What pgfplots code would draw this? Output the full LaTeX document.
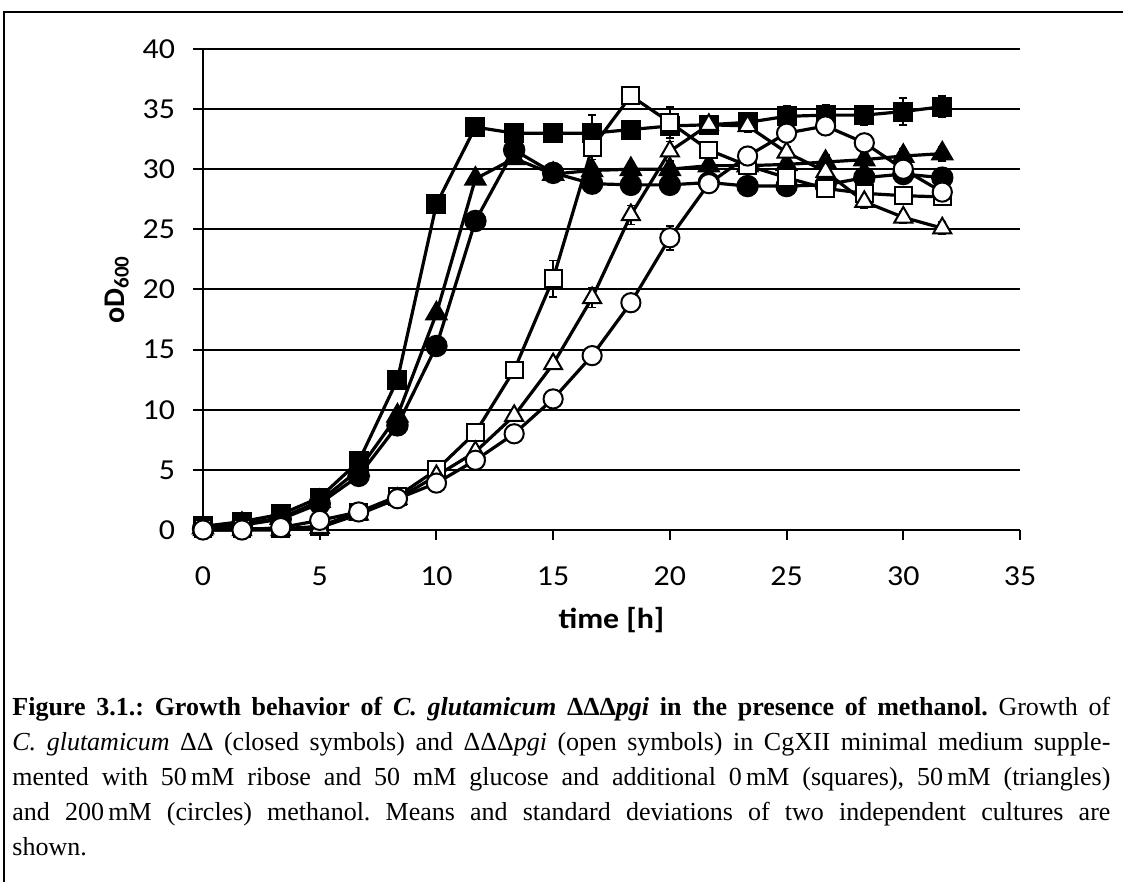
\documentclass[border=0pt]{standalone}
\usepackage{pgfplots}
\pgfplotsset{compat=1.18}
\usepackage{fontspec}
\setmainfont{Liberation Serif}
\newfontfamily\calib[FakeStretch=1.1]{Carlito}
\newfontfamily\calibn{Carlito}

% time [h], OD600, sd
\pgfplotstableread{
t y e
0 0.3 0.1
1.67 0.7 0.1
3.33 1.3 0.1
5 2.7 0.2
6.67 5.7 0.3
8.33 12.5 0.3
10 27.1 0.5
11.67 33.5 0.3
13.33 33.0 0.3
15 33.0 0.3
16.67 33.0 1.5
18.33 33.3 0.5
20 33.6 0.5
21.67 33.7 0.4
23.33 33.9 0.4
25 34.4 0.9
26.67 34.5 0.9
28.33 34.5 0.8
30 34.8 1.1
31.67 35.2 0.9
}\sqclosed
\pgfplotstableread{
t y e
0 0.2 0.1
1.67 0.5 0.1
3.33 1.0 0.1
5 2.4 0.2
6.67 5.0 0.3
8.33 9.5 0.3
10 18.0 0.4
11.67 29.2 0.4
13.33 30.9 0.4
15 29.6 0.4
16.67 29.9 0.5
18.33 30.0 0.5
20 30.0 0.5
21.67 30.3 0.5
23.33 30.3 0.5
25 30.4 0.6
26.67 30.6 0.6
28.33 30.8 0.6
30 31.1 0.6
31.67 31.3 0.6
}\trclosed
\pgfplotstableread{
t y e
0 0.1 0.1
1.67 0.4 0.1
3.33 0.9 0.1
5 2.2 0.2
6.67 4.5 0.3
8.33 8.7 0.3
10 15.3 0.4
11.67 25.7 0.4
13.33 31.6 0.4
15 29.7 0.4
16.67 28.8 0.4
18.33 28.7 0.4
20 28.7 0.4
21.67 28.9 0.4
23.33 28.6 0.4
25 28.6 0.4
26.67 28.7 0.4
28.33 29.3 0.5
30 29.6 0.5
31.67 29.3 0.5
}\ciclosed
\pgfplotstableread{
t y e
0 0.1 0.1
1.67 0.1 0.1
3.33 0.1 0.1
5 0.3 0.1
6.67 1.5 0.1
8.33 2.8 0.2
10 5.0 0.2
11.67 8.1 0.3
13.33 13.3 0.3
15 20.9 1.5
16.67 31.8 1.0
18.33 36.1 0.5
20 33.9 1.3
21.67 31.6 0.5
23.33 30.3 0.5
25 29.3 0.5
26.67 28.4 0.5
28.33 28.0 0.5
30 27.8 0.5
31.67 27.7 0.5
}\sqopen
\pgfplotstableread{
t y e
0 0.0 0.1
1.67 0.0 0.1
3.33 0.0 0.1
5 0.2 0.1
6.67 1.3 0.1
8.33 2.6 0.2
10 4.5 0.2
11.67 6.5 0.3
13.33 9.5 0.3
15 13.8 0.4
16.67 19.3 0.8
18.33 26.2 0.8
20 31.5 0.8
21.67 33.7 0.5
23.33 33.6 0.5
25 31.4 0.5
26.67 29.8 0.5
28.33 27.3 0.5
30 26.0 0.5
31.67 25.1 0.5
}\tropen
\pgfplotstableread{
t y e
0 0.0 0.1
1.67 0.0 0.1
3.33 0.2 0.1
5 0.8 0.1
6.67 1.5 0.1
8.33 2.6 0.2
10 3.9 0.2
11.67 5.8 0.3
13.33 8.0 0.3
15 10.9 0.4
16.67 14.5 0.4
18.33 18.9 0.6
20 24.3 1.0
21.67 28.8 0.5
23.33 31.1 0.5
25 33.0 0.5
26.67 33.6 0.5
28.33 32.2 0.5
30 30.0 0.5
31.67 28.1 0.5
}\ciopen

\begin{document}
\frenchspacing
\begin{tikzpicture}
\useasboundingbox (0,0) rectangle (561.5pt,441pt);
\draw[line width=1pt] (2pt,0pt) -- (2pt,435pt) -- (561.5pt,435pt);
\begin{axis}[
  at={(101.5pt,176pt)}, anchor=south west,
  scale only axis, width=408.5pt, height=240.5pt,
  xmin=0, xmax=35, ymin=0, ymax=40,
  xtick={0,5,...,35}, ytick={0,5,...,40},
  axis lines=left, axis line style={-, line width=1pt},
  tick align=outside, major tick length=5pt,
  tick style={line width=1pt, black},
  ymajorgrids, grid style={line width=1pt, black},
  clip=false,
  /pgf/number format/assume math mode=true,
  ticklabel style={font=\calib\fontsize{14.5}{16}\selectfont},
  xticklabel shift=10pt, yticklabel shift=5.5pt,
  xlabel={time [h]}, ylabel={oD\textsubscript{600}},
  xlabel style={font=\calib\bfseries\fontsize{14.5}{16}\selectfont, yshift=-4pt},
  ylabel style={font=\calibn\bfseries\fontsize{15}{16}\selectfont},
  every axis plot/.append style={line width=1.6pt, black,
    error bars/y dir=both, error bars/y explicit,
    error bars/error bar style={line width=0.8pt},
    error bars/error mark options={rotate=90, mark size=2pt, line width=0.8pt}},
]
\addplot[mark=square*, mark size=4.2pt, mark options={solid, fill=black}] table[x=t, y=y, y error=e] {\sqclosed};
\addplot[mark=triangle*, mark size=5.2pt, mark options={solid, fill=black}] table[x=t, y=y, y error=e] {\trclosed};
\addplot[mark=*, mark size=4.8pt, mark options={solid, fill=black}] table[x=t, y=y, y error=e] {\ciclosed};
\addplot[mark=square*, mark size=4.2pt, mark options={solid, fill=white, line width=1pt}] table[x=t, y=y, y error=e] {\sqopen};
\addplot[mark=triangle*, mark size=5.2pt, mark options={solid, fill=white, line width=1pt}] table[x=t, y=y, y error=e] {\tropen};
\addplot[mark=*, mark size=4.8pt, mark options={solid, fill=white, line width=1pt}] table[x=t, y=y, y error=e] {\ciopen};
\end{axis}
\node[anchor=north west, inner sep=0pt, text width=549pt, align=justify,
  font=\fontsize{13}{17.5}\selectfont] at (6pt,92.5pt) {%
\textbf{Figure 3.1.: Growth behavior of \textit{C.~glutamicum} ΔΔΔ\textit{pgi} in the presence of methanol.} Growth of\linebreak
\textit{C.~glutamicum} ΔΔ (closed symbols) and ΔΔΔ\textit{pgi} (open symbols) in CgXII minimal medium supple-\linebreak
mented with 50\,mM ribose and 50 mM glucose and additional 0\,mM (squares), 50\,mM (triangles)\linebreak
and 200\,mM (circles) methanol. Means and standard deviations of two independent cultures are\linebreak
shown.};
\end{tikzpicture}
\end{document}
